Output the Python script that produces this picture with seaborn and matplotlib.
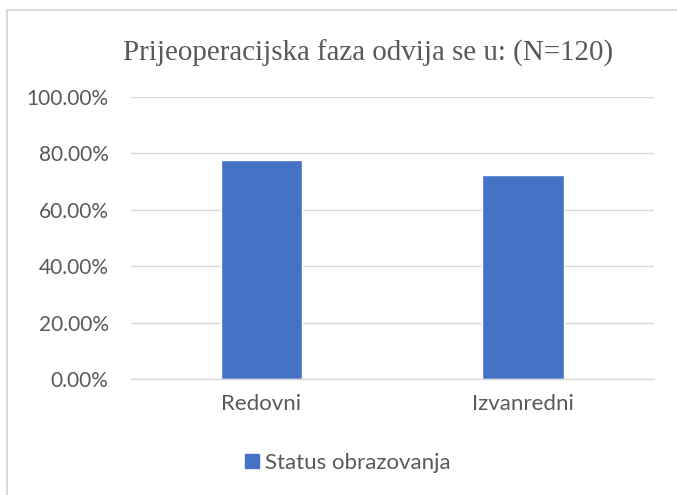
import matplotlib
matplotlib.use("Agg")
import matplotlib.pyplot as plt
import matplotlib.patches as mpatches
from matplotlib.ticker import PercentFormatter, MultipleLocator
import seaborn as sns
import pandas as pd

categories = ["Redovni", "Izvanredni"]
values = [77.5, 72.5]
series_name = "Status obrazovanja"
title = "Prijeoperacijska faza odvija se u: (N=120)"

sns.set_theme(style="white")
plt.rcParams['font.family'] = ['Lato', 'DejaVu Sans']

df = pd.DataFrame({"cat": categories, "val": values, "series": series_name})

fig = plt.figure(figsize=(6.77, 4.95), dpi=100)
ax = fig.add_axes([130.75/677, 1-379/495, (653.75-130.75)/677, (379-97)/495])

sns.barplot(data=df, x="cat", y="val", hue="series", palette=["#4472C4"],
            width=0.31, ax=ax, legend=False, saturation=1)

ax.set_ylim(0, 100)
ax.yaxis.set_major_locator(MultipleLocator(20))
ax.yaxis.set_major_formatter(PercentFormatter(decimals=2))
ax.grid(axis="y", color="#d9d9d9", linewidth=1)
ax.set_axisbelow(True)
for s in ["top", "right", "left"]:
    ax.spines[s].set_visible(False)
ax.spines["bottom"].set_color("#d9d9d9")
ax.spines["bottom"].set_linewidth(1)
ax.set_xlabel("")
ax.set_ylabel("")
ax.tick_params(axis="both", length=0, colors="#595959")
ax.tick_params(axis="y", pad=16, labelsize=15)
ax.tick_params(axis="x", pad=11, labelsize=16)

fig.text(368/677, 1-53/495, title, ha="center", va="center",
         fontsize=20.9, color="#595959", family=["Liberation Serif", "DejaVu Serif"])

handle = mpatches.Patch(color="#4472C4", label=series_name)
fig.legend(handles=[handle], loc="center", bbox_to_anchor=(348/677, 1-463/495),
           frameon=False, fontsize=16, labelcolor="#595959",
           handlelength=0.6, handleheight=0.6, handletextpad=0.3)

rect = mpatches.Rectangle((7/677, -0.1), 1.2, 1-10/495+0.1, transform=fig.transFigure,
                          fill=False, edgecolor="#d9d9d9", linewidth=1.5, clip_on=False)
fig.patches.append(rect)

fig.savefig("out.png", dpi=100)
